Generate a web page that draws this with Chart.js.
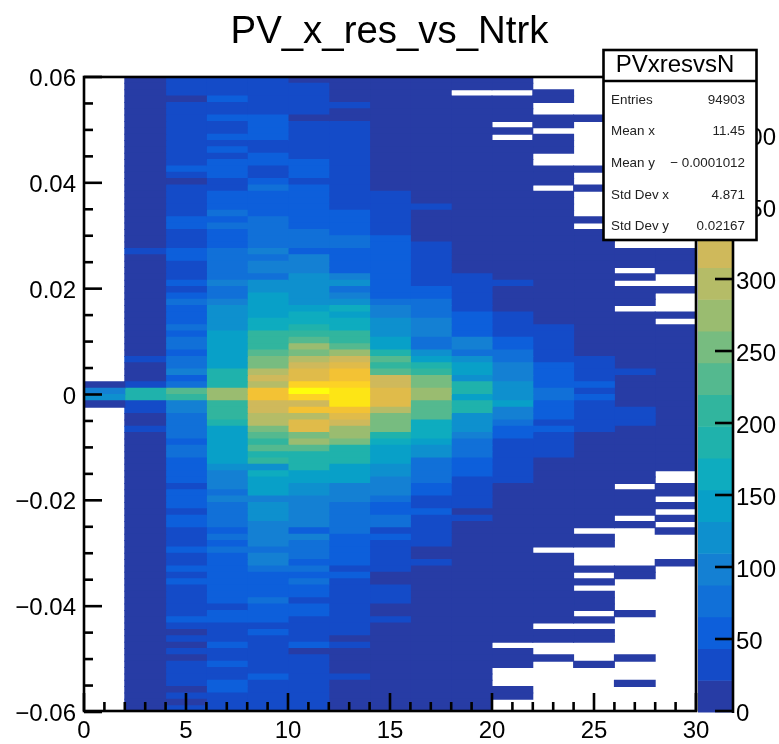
<!DOCTYPE html>
<html>
<head>
<meta charset="utf-8">
<script src="https://cdn.jsdelivr.net/npm/chart.js@4/dist/chart.umd.min.js"></script>
<style>html,body{margin:0;padding:0;background:#fff}canvas{display:block}</style>
</head>
<body>
<canvas id="c" width="779" height="744"></canvas>
<script>
// Counts per bin, one array per Ntrk column (x bin width 2), rows from y=+0.06 down to y=-0.06. 0 = empty.
const c0=[0,0,0,0,0,0,0,0,0,0,0,0,0,0,0,0,0,0,0,0,0,0,0,0,0,0,0,0,0,0,0,0,0,0,0,0,0,0,0,0,
0,0,0,0,0,0,0,0,11,99,121,11,0,0,0,0,0,0,0,0,0,0,0,0,0,0,0,0,0,0,0,0,0,0,0,0,0,0,0,0,
0,0,0,0,0,0,0,0,0,0,0,0,0,0,0,0,0,0,0,0];
const c1=[11,11,11,11,11,11,11,11,11,11,11,11,11,11,11,11,11,11,11,11,
11,11,11,11,11,11,11,33,11,11,11,11,11,11,11,11,11,11,11,11,
11,11,11,11,33,11,11,11,33,187,187,33,33,11,11,33,11,11,11,11,
11,11,11,11,11,11,11,11,11,11,11,11,11,11,11,11,11,11,11,11,
11,11,11,11,11,11,11,11,11,11,11,11,11,11,11,11,11,11,11,11];
const c2=[33,33,33,11,33,33,33,33,33,33,33,33,33,33,55,33,11,33,33,33,
33,33,55,55,33,33,33,55,55,33,33,33,55,33,55,77,55,55,55,77,
55,77,77,55,77,77,99,55,77,231,209,99,99,77,77,77,77,55,77,77,
55,55,55,55,33,55,55,55,33,55,55,33,33,33,55,33,33,55,33,55,
33,33,33,33,33,55,33,11,33,11,33,11,33,33,33,33,11,33,11,33];
const c3=[33,33,33,55,33,33,55,33,33,55,33,55,33,55,55,55,33,33,55,55,
55,77,55,77,55,55,55,77,77,77,77,77,99,77,77,99,121,121,121,121,
143,143,143,143,143,143,187,187,187,275,275,209,209,209,187,143,143,143,143,143,
143,121,99,99,99,77,99,77,77,77,77,55,77,55,77,55,55,55,55,55,
55,55,55,33,55,55,33,33,33,55,33,33,55,33,33,55,55,33,33,33];
const c4=[33,33,33,33,33,33,55,55,55,55,33,33,55,55,33,33,55,77,55,55,
55,55,77,77,77,77,77,99,77,99,99,77,121,121,143,143,143,143,165,165,
209,209,209,231,253,253,297,319,297,363,363,319,319,297,297,253,231,209,231,187,
209,121,165,143,143,143,99,121,121,121,99,99,99,99,77,99,99,77,55,55,
55,55,77,55,55,55,33,55,33,33,33,33,33,33,55,33,33,33,33,33];
const c5=[11,33,33,33,33,33,11,33,33,33,33,33,33,55,55,55,33,55,55,55,
55,55,55,55,77,77,77,55,99,99,99,121,121,121,121,121,143,165,165,187,
209,231,275,253,297,319,341,341,385,429,385,319,363,297,341,341,253,275,231,187,
187,187,143,143,121,121,99,99,99,99,99,55,99,77,77,77,55,77,55,77,
55,55,33,55,55,33,33,33,33,55,11,33,33,33,33,33,33,33,33,33];
const c6=[11,11,11,11,33,11,11,33,33,33,33,33,33,33,33,33,33,33,33,33,
33,55,55,55,55,77,77,55,55,55,55,99,121,77,99,121,165,143,165,165,
209,209,231,275,319,341,363,363,385,407,407,407,363,341,319,275,275,253,187,187,
187,143,143,143,99,99,99,77,77,77,77,77,55,55,55,55,55,33,55,33,
33,33,33,33,33,33,33,33,11,33,11,11,11,11,33,11,11,11,11,11];
const c7=[11,11,11,11,11,11,11,11,11,11,11,11,11,11,11,11,11,11,33,33,
33,33,33,33,33,55,55,55,55,55,55,55,55,55,55,77,99,99,121,121,
121,143,143,187,231,209,231,319,319,341,341,341,297,253,253,253,187,165,143,143,
143,121,121,99,99,99,77,55,55,77,77,33,55,33,33,33,33,33,11,11,
33,33,33,11,11,33,11,11,11,11,11,11,11,11,11,11,11,11,11,11];
const c8=[11,11,11,11,11,11,11,11,11,11,11,11,11,11,11,11,11,11,11,11,
33,11,11,11,11,11,33,33,33,33,33,33,33,55,55,77,77,77,99,99,
99,77,77,121,143,187,209,253,253,275,275,231,231,231,165,165,165,143,121,121,
77,77,77,77,55,55,33,33,55,33,33,33,33,33,11,11,33,11,11,11,
11,11,11,11,11,11,11,11,11,11,11,11,11,11,11,11,11,11,11,11];
const c9=[11,11,0,11,11,11,11,11,11,11,11,11,11,11,11,11,11,11,11,11,
11,11,11,11,11,11,11,11,11,11,11,33,33,33,33,33,33,55,55,55,
55,99,99,77,121,143,143,121,187,187,143,187,187,121,121,121,99,77,77,77,
55,55,55,33,33,33,33,33,11,33,11,11,11,11,11,11,11,11,11,11,
11,11,11,11,11,11,11,11,11,11,11,11,11,11,11,11,11,11,11,11];
const c10=[11,11,0,11,11,11,11,0,11,0,11,11,11,11,11,11,11,11,11,11,
11,11,11,11,11,11,11,11,11,11,11,11,33,11,11,11,11,33,33,33,
33,55,55,77,77,99,99,99,121,121,121,143,99,99,77,55,55,33,33,33,
33,33,33,33,11,11,11,11,11,11,11,11,11,11,11,11,11,11,11,11,
11,11,11,11,11,11,11,11,11,0,11,11,11,0,0,0,11,11,0,0];
const c11=[0,0,11,11,0,0,11,11,0,11,11,11,0,0,11,11,11,0,11,11,
11,11,11,11,11,11,11,11,11,11,11,11,11,11,11,11,11,11,11,33,
33,33,33,33,33,55,55,55,55,77,77,55,55,55,33,55,33,33,33,33,
11,11,11,11,11,11,11,11,11,11,11,11,11,11,0,11,11,11,11,11,
11,11,11,11,11,11,0,11,11,0,0,11,0,0,0,0,0,0,0,0];
const c12=[0,0,0,0,0,0,11,0,0,0,0,0,0,0,11,0,0,11,0,0,
0,0,11,0,11,11,11,11,11,11,11,11,11,11,11,11,11,11,11,11,
11,11,11,11,33,33,33,33,55,33,55,33,33,33,33,33,11,11,11,11,
11,11,11,11,11,11,11,11,11,11,11,0,11,11,0,0,0,11,0,11,
0,11,11,11,0,11,0,11,11,0,0,0,11,0,0,0,0,0,0,0];
const c13=[0,0,0,0,0,0,0,0,0,0,0,0,0,0,0,0,0,0,0,0,
0,0,0,0,0,0,0,11,11,11,0,11,0,11,11,11,0,11,11,11,
11,11,11,11,11,11,33,11,11,11,11,11,33,33,33,11,11,11,11,11,
11,11,11,11,0,11,11,11,11,0,11,0,0,0,0,0,0,11,11,0,
0,0,0,0,11,0,0,0,0,0,0,11,0,0,0,11,0,0,0,0];
const c14=[0,0,0,0,0,0,0,0,0,0,0,0,0,0,0,0,0,0,0,0,
0,0,0,0,0,0,0,11,11,11,11,0,0,11,0,0,0,11,0,11,
11,11,11,11,11,11,11,11,11,11,11,11,11,11,11,11,11,11,11,11,
11,11,0,0,11,11,0,11,0,11,0,11,0,0,0,0,11,0,0,0,
0,0,0,0,0,0,0,0,0,0,0,0,0,0,0,0,0,0,0,0];
const columns=[c0,c1,c2,c3,c4,c5,c6,c7,c8,c9,c10,c11,c12,c13,c14];

const xBinWidth=2, yBinWidth=0.0012, yTop=0.06, zMax=441;
const xTickLabels=[0,5,10,15,20,25,30];
const yTickLabels=[-0.06,-0.04,-0.02,0,0.02,0.04,0.06];
const zTickLabels=[0,50,100,150,200,250,300,350,400];
const palette=['#273ca5','#144bc8','#0d5fdb','#1170d8','#1480d3','#0e90ce','#08a0c8','#0eacbf','#1fb2ac','#31b59e',
'#54b98f','#77bc80','#9abc70','#b5bc67','#cfb95b','#e0bb4a','#f3c234','#fdd225','#fde515','#fefe0c'];
const statsName='PVxresvsN';
const statsLabels=['Entries','Mean x','Mean y','Std Dev x','Std Dev y'];
const statsValues=['94903','11.45','\u2212 0.0001012','4.871','0.02167'];
const titleText='PV_x_res_vs_Ntrk';

const FONT='"Liberation Sans",Helvetica,Arial,sans-serif';
const levelOf=v=>Math.min(palette.length-1,Math.floor(v/(zMax/palette.length)));

const datasets=columns.map((col,ci)=>{
  const data=[],colors=[];
  col.forEach((v,r)=>{
    if(!v)return;
    data.push({x:ci*xBinWidth+xBinWidth/2,y:[yTop-(r+1)*yBinWidth,yTop-r*yBinWidth]});
    colors.push(palette[levelOf(v)]);
  });
  return {data,backgroundColor:colors,borderWidth:0,inflateAmount:0.5,barPercentage:1,categoryPercentage:1,grouped:false,yAxisID:'y',xAxisID:'x'};
});

function line(ctx,x1,y1,x2,y2){ctx.beginPath();ctx.moveTo(x1,y1);ctx.lineTo(x2,y2);ctx.stroke();}

const decor={
  id:'decor',
  beforeDraw(chart){const c=chart.ctx;c.save();c.fillStyle='#fff';c.fillRect(0,0,chart.width,chart.height);c.restore();},
  afterDatasetsDraw(chart){
    const c=chart.ctx,{x,y,z}=chart.scales,a=chart.chartArea;
    c.save();
    // colour bar
    const bl=698,br=733;
    c.fillStyle='#d4d4d4';c.fillRect(bl-1,a.top,1,a.bottom-a.top);
    palette.forEach((col,i)=>{
      const step=zMax/palette.length;
      const top=z.getPixelForValue((i+1)*step),bot=z.getPixelForValue(i*step);
      c.fillStyle=col;c.fillRect(bl,top,br-bl,bot-top+0.5);
    });
    c.strokeStyle='#000';c.lineWidth=2.6;c.lineCap='butt';
    line(c,br,a.top,br,a.bottom+1);
    zTickLabels.forEach(v=>{const p=z.getPixelForValue(v)-1;line(c,715,p,br,p);});
    // frame
    c.strokeRect(a.left,a.top,a.right-a.left,a.bottom-a.top-1);
    // y ticks
    for(let i=0;i<=24;i++){
      const v=-0.06+i*0.005,p=y.getPixelForValue(v),len=i%4===0?18:9;
      line(c,a.left,p,a.left+len,p);
    }
    // x ticks
    for(let i=0;i<=30;i++){
      const p=x.getPixelForValue(i),len=i%5===0?18:9,b=a.bottom-1;
      line(c,p,b,p,b-len);
    }
    // stats box
    const bx=603.5,by=50,bw=153,bh=190,div=81;
    c.fillStyle='#fff';c.fillRect(bx,by,bw,bh);
    c.strokeRect(bx,by,bw,bh);
    line(c,bx,div,bx+bw,div);
    c.fillStyle='#000';c.textBaseline='middle';c.textAlign='center';
    c.font='24px '+FONT;c.fillText(statsName,675,65);
    const rowY=[100,131.5,163,195,226];
    c.font='13.4px '+FONT;c.fillStyle='#222';
    statsLabels.forEach((t,i)=>{
      c.textAlign='left';c.fillText(t,611,rowY[i]);
      c.textAlign='right';c.fillText(statsValues[i],745,rowY[i]);
    });
    c.restore();
  }
};

new Chart(document.getElementById('c'),{
  type:'bar',
  data:{datasets},
  plugins:[decor],
  options:{
    responsive:false,animation:false,
    layout:{padding:0},
    plugins:{
      legend:{display:false},tooltip:{enabled:false},
      title:{display:true,text:titleText,color:'#000',font:{family:FONT,size:38.4,weight:'normal',lineHeight:1.2},padding:{top:9.5,bottom:21.4}}
    },
    scales:{
      x:{type:'linear',min:0,max:30,offset:false,
        grid:{display:false,offset:false,drawTicks:false},border:{display:false},
        afterFit(s){s.height=32;},
        afterBuildTicks(s){s.ticks=xTickLabels.map(value=>({value}));},
        ticks:{color:'#000',font:{family:FONT,size:24},padding:5,maxRotation:0,autoSkip:false}},
      y:{type:'linear',min:-0.06,max:0.06,position:'left',stacked:false,
        grid:{display:false,drawTicks:false},border:{display:false},
        afterFit(s){s.width=84;},
        afterBuildTicks(s){s.ticks=yTickLabels.map(value=>({value}));},
        ticks:{color:'#000',font:{family:FONT,size:24},padding:8,autoSkip:false,labelOffset:2.5,
          callback:v=>v===0?'0':(v<0?'\u2212':'')+Math.abs(v).toFixed(2)}},
      z:{type:'linear',min:0,max:zMax,position:'right',
        grid:{display:false,drawTicks:false},border:{display:false},
        afterFit(s){s.width=83;s.paddingBottom=0;s.paddingTop=0;},
        afterBuildTicks(s){s.ticks=zTickLabels.map(value=>({value}));},
        ticks:{color:'#000',font:{family:FONT,size:24},padding:40,autoSkip:false,labelOffset:2}}
    }
  }
});
</script>
</body>
</html>
